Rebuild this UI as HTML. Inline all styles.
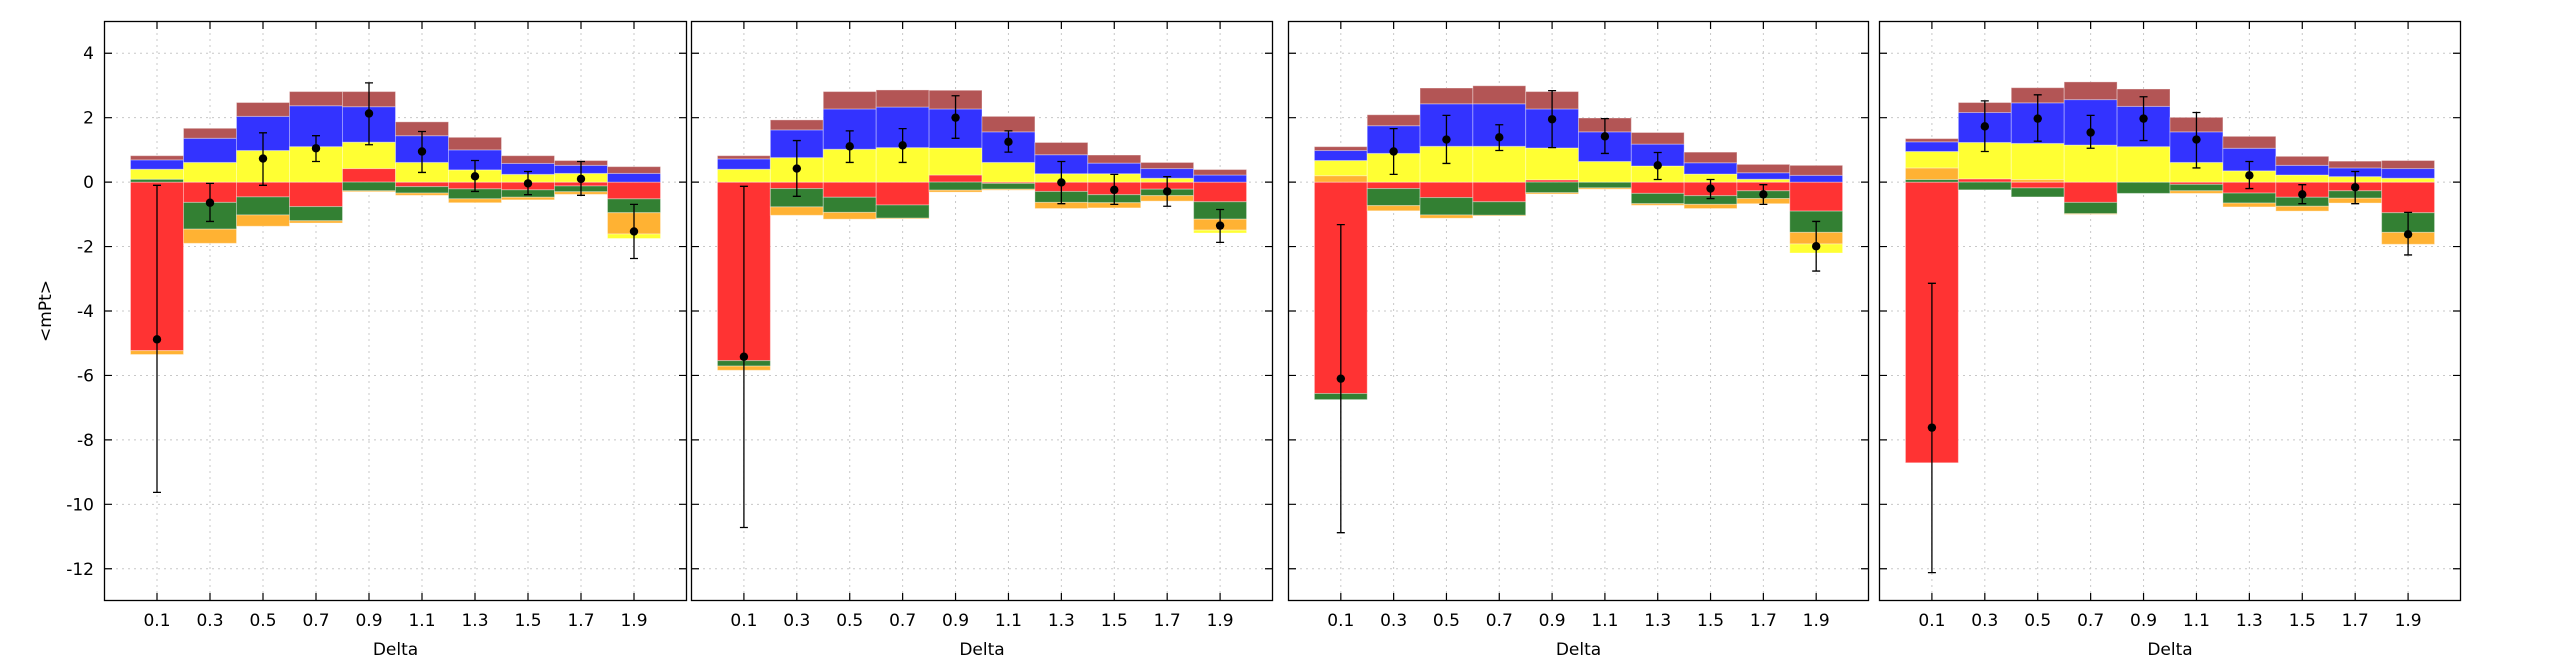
<!DOCTYPE html>
<html><head><meta charset="utf-8"><style>
html,body{margin:0;padding:0;background:#fff;}
svg{display:block;font-family:"DejaVu Sans","Liberation Sans",sans-serif;}
</style></head><body>
<svg id="chart" width="2550" height="662" viewBox="0 0 2550 662" xmlns="http://www.w3.org/2000/svg"></svg>
<script>
const categories = [0.1,0.3,0.5,0.7,0.9,1.1,1.3,1.5,1.7,1.9];
const xTicks = ["0.1","0.3","0.5","0.7","0.9","1.1","1.3","1.5","1.7","1.9"];
const yTicks = [4,2,0,-2,-4,-6,-8,-10,-12];
const componentNames = ["red","green","orange","yellow","blue","brown"];
const componentColors = ["#ff3333","#338033","#ffb233","#ffff33","#3333ff","#b35555"];
// panel 1 components per bin
const p1Red    = [-5.23,-0.63,-0.46,-0.76,0.42,-0.14,-0.21,-0.24,-0.12,-0.52];
const p1Green  = [0.09,-0.83,-0.56,-0.44,-0.27,-0.20,-0.31,-0.23,-0.18,-0.43];
const p1Orange = [-0.12,-0.44,-0.35,-0.07,-0.03,-0.07,-0.12,-0.08,-0.08,-0.66];
const p1Yellow = [0.31,0.61,0.98,1.10,0.82,0.61,0.38,0.24,0.27,-0.14];
const p1Blue   = [0.29,0.75,1.06,1.27,1.10,0.83,0.62,0.34,0.25,0.27];
const p1Brown  = [0.13,0.31,0.43,0.44,0.47,0.43,0.39,0.24,0.15,0.21];
const p1Points = [-4.88,-0.64,0.73,1.05,2.13,0.95,0.18,-0.04,0.10,-1.53];
const p1ErrHi  = [-0.10,-0.04,1.53,1.44,3.08,1.57,0.67,0.33,0.64,-0.69];
const p1ErrLo  = [-9.63,-1.22,-0.10,0.64,1.16,0.30,-0.29,-0.39,-0.41,-2.37];
// panel 2
const p2Red    = [-5.54,-0.20,-0.47,-0.71,0.22,-0.04,-0.29,-0.39,-0.22,-0.61];
const p2Green  = [-0.17,-0.57,-0.47,-0.41,-0.25,-0.18,-0.34,-0.25,-0.20,-0.54];
const p2Orange = [-0.13,-0.26,-0.21,-0.02,-0.06,-0.03,-0.19,-0.16,-0.17,-0.34];
const p2Yellow = [0.40,0.76,1.02,1.07,0.84,0.61,0.26,0.26,0.12,-0.09];
const p2Blue   = [0.32,0.86,1.25,1.26,1.21,0.95,0.59,0.33,0.30,0.22];
const p2Brown  = [0.10,0.31,0.54,0.53,0.58,0.48,0.38,0.25,0.19,0.17];
const p2Points = [-5.42,0.42,1.11,1.14,2.00,1.25,-0.01,-0.24,-0.29,-1.35];
const p2ErrHi  = [-0.13,1.29,1.59,1.66,2.68,1.59,0.64,0.24,0.17,-0.85];
const p2ErrLo  = [-10.72,-0.44,0.61,0.61,1.36,0.93,-0.67,-0.69,-0.75,-1.87];
// panel 3
const p3Red    = [-6.56,-0.20,-0.48,-0.61,0.07,0.00,-0.35,-0.42,-0.27,-0.90];
const p3Green  = [-0.19,-0.53,-0.54,-0.42,-0.33,-0.18,-0.32,-0.27,-0.24,-0.66];
const p3Orange = [0.20,-0.16,-0.10,-0.02,-0.04,-0.04,-0.05,-0.13,-0.16,-0.36];
const p3Yellow = [0.47,0.89,1.11,1.11,0.99,0.64,0.50,0.25,0.09,-0.28];
const p3Blue   = [0.31,0.86,1.32,1.32,1.21,0.92,0.68,0.35,0.20,0.21];
const p3Brown  = [0.12,0.34,0.49,0.56,0.54,0.43,0.36,0.33,0.26,0.31];
const p3Points = [-6.10,0.95,1.32,1.39,1.95,1.42,0.52,-0.20,-0.38,-1.99];
const p3ErrHi  = [-1.32,1.66,2.07,1.78,2.84,1.97,0.92,0.08,-0.08,-1.22];
const p3ErrLo  = [-10.88,0.24,0.58,0.98,1.07,0.89,0.08,-0.51,-0.69,-2.76];
// panel 4
const p4Red    = [-8.71,0.10,-0.18,-0.63,0.00,-0.07,-0.34,-0.47,-0.27,-0.95];
const p4Green  = [0.08,-0.24,-0.28,-0.35,-0.35,-0.20,-0.31,-0.28,-0.23,-0.61];
const p4Orange = [0.36,0.00,0.08,-0.02,0.00,-0.08,-0.12,-0.15,-0.15,-0.37];
const p4Yellow = [0.51,1.13,1.12,1.15,1.10,0.61,0.35,0.22,0.17,0.12];
const p4Blue   = [0.30,0.93,1.26,1.41,1.25,0.95,0.70,0.30,0.27,0.30];
const p4Brown  = [0.10,0.31,0.47,0.55,0.54,0.45,0.37,0.28,0.21,0.25];
const p4Points = [-7.62,1.73,1.97,1.54,1.97,1.32,0.21,-0.38,-0.16,-1.62];
const p4ErrHi  = [-3.14,2.52,2.71,2.07,2.65,2.16,0.64,-0.08,0.33,-0.94];
const p4ErrLo  = [-12.12,0.95,1.27,1.05,1.29,0.44,-0.20,-0.67,-0.67,-2.26];

const panels = [
  {left:104,right:687,comps:[p1Red,p1Green,p1Orange,p1Yellow,p1Blue,p1Brown],pts:p1Points,hi:p1ErrHi,lo:p1ErrLo},
  {left:691,right:1273,comps:[p2Red,p2Green,p2Orange,p2Yellow,p2Blue,p2Brown],pts:p2Points,hi:p2ErrHi,lo:p2ErrLo},
  {left:1288,right:1869,comps:[p3Red,p3Green,p3Orange,p3Yellow,p3Blue,p3Brown],pts:p3Points,hi:p3ErrHi,lo:p3ErrLo},
  {left:1879,right:2461,comps:[p4Red,p4Green,p4Orange,p4Yellow,p4Blue,p4Brown],pts:p4Points,hi:p4ErrHi,lo:p4ErrLo}
];
const TOP=21, BOT=601, YMIN=-13, YMAX=5, XMIN=-0.1, XMAX=2.1, BINW=0.2;
const svg=document.getElementById('chart');
const NS="http://www.w3.org/2000/svg";
function mk(tag,attrs,parent){const e=document.createElementNS(NS,tag);for(const k in attrs)e.setAttribute(k,attrs[k]);(parent||svg).appendChild(e);return e;}
function yScale(v){return TOP+(YMAX-v)/(YMAX-YMIN)*(BOT-TOP);}

panels.forEach((p,pi)=>{
  const xScale=v=>p.left+(v-XMIN)/(XMAX-XMIN)*(p.right-p.left);
  const g=mk('g',{});
  
  
  // grid
  xTicks.forEach((t,i)=>{
    const x=xScale(categories[i]);
    const l=mk('line',{x1:x,x2:x,y1:TOP,y2:BOT,stroke:'#c8c8c8','stroke-width':1,'stroke-dasharray':'2,4'},g);
    
    
  });
  yTicks.forEach(v=>{
    const y=yScale(v);
    const l=mk('line',{x1:p.left,x2:p.right,y1:y,y2:y,stroke:'#c8c8c8','stroke-width':1,'stroke-dasharray':'2,4'},g);
    
    
  });
  // stacked bars
  categories.forEach((c,i)=>{
    let pos=0,neg=0;
    const x0=xScale(c-BINW/2), x1=xScale(c+BINW/2);
    p.comps.forEach((arr,ci)=>{
      const v=arr[i]; if(v===0) return;
      let a,b;
      if(v>0){a=pos;b=pos+v;pos=b;}else{a=neg;b=neg+v;neg=b;}
      const yA=yScale(Math.max(a,b)), yB=yScale(Math.min(a,b));
      const r=mk('rect',{x:x0,y:yA,width:x1-x0,height:Math.max(yB-yA,0.5),fill:componentColors[ci],stroke:'rgba(255,255,255,0.35)','stroke-width':1},g);
      
      
    });
  });
  // error bars and points
  categories.forEach((c,i)=>{
    const x=xScale(c), yh=yScale(p.hi[i]), yl=yScale(p.lo[i]);
    const eb=mk('path',{d:`M${x},${yh}V${yl}M${x-4},${yh}H${x+4}M${x-4},${yl}H${x+4}`,stroke:'#000','stroke-width':1.3,fill:'none'},g);
    
    
    const pt=mk('circle',{cx:x,cy:yScale(p.pts[i]),r:4.2,fill:'#000'},g);
    
    
  });
  // frame
  const fr=mk('rect',{x:p.left+0.5,y:TOP+0.5,width:p.right-p.left-1,height:BOT-TOP-1,fill:'none',stroke:'#000','stroke-width':1.3},g);
  
  
  // ticks
  yTicks.forEach(v=>{
    const y=yScale(v);
    const t=mk('path',{d:`M${p.left},${y}H${p.left+8}M${p.right},${y}H${p.right-8}`,stroke:'#000','stroke-width':1.2},g);
    
    
    if(pi===0){
      const tx=mk('text',{x:p.left-10,y:y+6,'text-anchor':'end','font-size':17,fill:'#000'},g);
      tx.textContent=v;
      
      
    }
  });
  xTicks.forEach((t,i)=>{
    const x=xScale(categories[i]);
    const tk=mk('path',{d:`M${x},${BOT}V${BOT-8}M${x},${TOP}V${TOP+8}`,stroke:'#000','stroke-width':1.2},g);
    
    
    const tx=mk('text',{x:x,y:626,'text-anchor':'middle','font-size':17,fill:'#000'},g);
    tx.textContent=t;
    
    
  });
  const xl=mk('text',{x:(p.left+p.right)/2,y:655,'text-anchor':'middle','font-size':17,fill:'#000'},g);
  xl.textContent='Delta';
  
  
});
const yl=mk('text',{x:0,y:0,'text-anchor':'middle','font-size':17,fill:'#000',transform:'translate(51,311) rotate(-90)'});
yl.textContent='<mPt>';


</script>
</body></html>
